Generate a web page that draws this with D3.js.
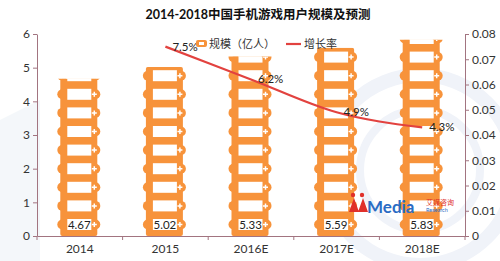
<!DOCTYPE html>
<html>
<head>
<meta charset="utf-8">
<script src="https://cdn.jsdelivr.net/npm/d3@7"></script>
<style>
body{margin:0;background:#fff;}
svg text{font-family:"Lato","Noto Sans CJK SC",sans-serif;}
</style>
</head>
<body>
<svg id="chart" width="500" height="261"></svg>
<script>
// dane
let years=["2014","2015","2016E","2017E","2018E"];
let users=[4.67,5.02,5.33,5.59,5.83]; // 规模（亿人）
let rates=[null,0.075,0.062,0.049,0.043]; // 增长率
let rateLabels=["","7.5%","6.2%","4.9%","4.3%"];
let leftTicks=[0,1,2,3,4,5,6];
let rightTicks=[0,0.01,0.02,0.03,0.04,0.05,0.06,0.07,0.08];

let W=500, H=261;
let m={top:34,right:35,bottom:25,left:37};
let orange="#f7933b", red="#e2423f", axisCol="#a27480";
let font='"Lato","Noto Sans CJK SC",sans-serif';

let svg=d3.select("#chart");

// tło - blady znak wodny
let wm=svg.append("g").attr("fill","none").attr("stroke","#f0f3f9");
wm.append("circle").attr("cx",420).attr("cy",170).attr("r",95).attr("stroke-width",14);
wm.append("circle").attr("cx",420).attr("cy",170).attr("r",60).attr("stroke-width",8);
wm.append("path").attr("d","M0,120 L40,100 L40,261 L0,261Z").attr("fill","#f4f7fa").attr("stroke","none");

let x=d3.scaleBand().domain(years).range([m.left,W-m.right]);
let y=d3.scaleLinear().domain([0,6]).range([H-m.bottom,m.top]);
let y2=d3.scaleLinear().domain([0,0.08]).range([H-m.bottom,m.top]);

// tytuł
svg.append("text").attr("x",258).attr("y",19).attr("text-anchor","middle")
    .attr("font-size",12.5).attr("font-weight","bold").attr("fill","#111")
    .attr("font-family",font)
    .text("2014-2018中国手机游戏用户规模及预测");

// osie
function styleAxis(g){
    g.attr("font-family",font);
    g.select(".domain").attr("stroke",axisCol);
    g.selectAll(".tick line").attr("stroke",axisCol);
    g.selectAll(".tick text").attr("fill","#333").attr("font-size",12);
}
svg.append("g").attr("transform","translate("+m.left+",0)")
    .call(d3.axisLeft(y).tickValues(leftTicks).tickSize(4).tickSizeOuter(0).tickFormat(d3.format("d")))
    .call(styleAxis);
svg.append("g").attr("transform","translate("+(W-m.right)+",0)")
    .call(d3.axisRight(y2).tickValues(rightTicks).tickSize(4).tickSizeOuter(0).tickFormat(d=>d==0?"0":d3.format(".2f")(d)))
    .call(styleAxis);
let xa=svg.append("g").attr("transform","translate(0,"+(H-m.bottom)+")")
    .call(d3.axisBottom(x).tickSize(0).tickSizeOuter(0))
    .call(styleAxis);
xa.selectAll(".tick text").attr("dy","1.15em");
// znaczniki na granicach kategorii
let bounds=years.map(d=>x(d)).concat([W-m.right]);
xa.selectAll(".bnd").data(bounds).enter().append("line")
    .attr("x1",d=>d).attr("x2",d=>d).attr("y1",0).attr("y2",4).attr("stroke",axisCol);

// słupki w stylu taśmy filmowej
let period=18.6, winH=11, half=18.5;
let defs=svg.append("defs");
years.forEach(function(yr,i){
    let cx=x(yr)+x.bandwidth()/2-1;
    let top=y(users[i]), base=y(0);
    defs.append("clipPath").attr("id","clip"+i).append("rect")
        .attr("x",cx-half-5).attr("y",top).attr("width",half*2+10).attr("height",base-top);
    let g=svg.append("g").attr("clip-path","url(#clip"+i+")");
    g.append("rect").attr("x",cx-half).attr("y",top).attr("width",half*2).attr("height",base-top)
        .attr("rx",2).attr("fill",orange);
    let rows=[];
    for(let k=0;base-6-winH-k*period>top-winH;k++) rows.push(base-6-winH-k*period);
    rows.forEach(function(wy){
        let mid=wy+winH/2;
        g.append("circle").attr("cx",cx-half+2).attr("cy",mid).attr("r",5).attr("fill",orange);
        g.append("circle").attr("cx",cx+half-2).attr("cy",mid).attr("r",5).attr("fill",orange);
        g.append("rect").attr("x",cx-11.5).attr("y",wy).attr("width",24).attr("height",winH).attr("fill","#fff");
        g.append("path").attr("d","M"+(cx+15.5)+","+(mid-2.5)+"v5M"+(cx+13)+","+mid+"h5")
            .attr("stroke","#fff").attr("stroke-width",1.5);
    });
    svg.append("text").attr("x",cx+0.5).attr("y",base-6-winH/2).attr("dy","0.36em")
        .attr("text-anchor","middle").attr("font-size",11.5).attr("fill","#222")
        .attr("font-family",font).text(users[i].toFixed(2));
});

// linia wzrostu
let pts=years.map((d,i)=>[x(d)+x.bandwidth()/2,rates[i]]).filter(p=>p[1]!=null);
svg.append("path").datum(pts)
    .attr("d",d3.line().x(p=>p[0]).y(p=>y2(p[1])).curve(d3.curveMonotoneX))
    .attr("fill","none").attr("stroke",red).attr("stroke-width",2.2);
svg.selectAll(".rl").data(pts).enter().append("text")
    .attr("x",p=>p[0]+7).attr("y",p=>y2(p[1])).attr("dy","0.35em")
    .attr("font-size",11.5).attr("fill","#222").attr("font-family",font)
    .text((p,i)=>rateLabels[i+1]);

// legenda
let lg=svg.append("g").attr("font-family",font);
lg.append("rect").attr("x",196).attr("y",40).attr("width",11).attr("height",7).attr("rx",2).attr("fill",orange);
lg.append("rect").attr("x",199).attr("y",42).attr("width",5).attr("height",3).attr("fill","#fff");
lg.append("text").attr("x",209).attr("y",44).attr("dy","0.35em").attr("font-size",11).attr("fill","#333").text("规模（亿人）");
lg.append("line").attr("x1",286).attr("x2",301).attr("y1",44).attr("y2",44).attr("stroke",red).attr("stroke-width",2.2);
lg.append("text").attr("x",304).attr("y",44).attr("dy","0.35em").attr("font-size",11).attr("fill","#333").text("增长率");

// logo iMedia
let logo=svg.append("g");
logo.append("path").attr("d","M349,212 L354,198 L359,212Z M358,212 L363,198 L368,212Z").attr("fill","#e0302a");
logo.append("circle").attr("cx",353).attr("cy",195).attr("r",2.2).attr("fill","#e0302a");
logo.append("circle").attr("cx",362).attr("cy",195).attr("r",2.2).attr("fill","#e0302a");
logo.append("text").attr("x",367).attr("y",213).attr("font-size",17).attr("font-weight","bold")
    .attr("font-family","DejaVu Sans").attr("fill","#2a6cc4").text("Media");
logo.append("text").attr("x",426).attr("y",205).attr("font-size",7).attr("fill","#e0302a")
    .attr("font-family","Noto Sans CJK SC").text("艾媒咨询");
logo.append("text").attr("x",426).attr("y",212).attr("font-size",5.5).attr("fill","#2a6cc4")
    .attr("font-family","DejaVu Sans").text("Research");
</script>
</body>
</html>
